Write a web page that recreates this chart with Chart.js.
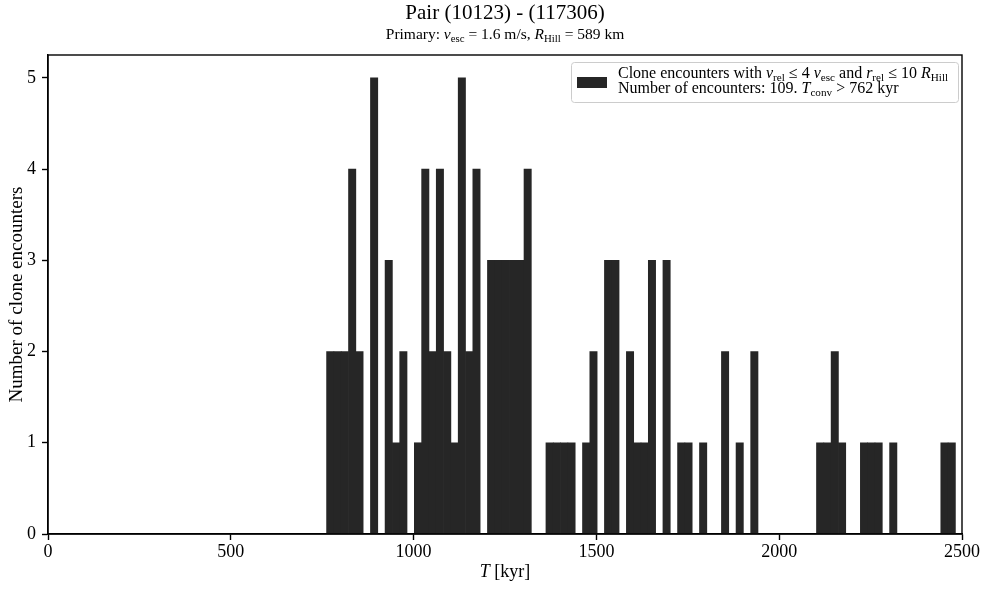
<!DOCTYPE html>
<html>
<head>
<meta charset="utf-8">
<script src="https://cdn.jsdelivr.net/npm/chart.js@4"></script>
<style>
  html, body { margin: 0; padding: 0; background: #fff; }
  #wrap { width: 986px; height: 589px; }
</style>
</head>
<body>
<div id="wrap"><canvas id="hist"></canvas></div>
<script>
// гистограмма тесных сближений клонов
var binStart = 762;   // T_conv, kyr
var binWidth = 20;    // ширина бина, kyr
var counts = [
  2, 2, 2, 4, 2, 0, 5, 0, 3, 1,
  2, 0, 1, 4, 2, 4, 2, 1, 5, 2,
  4, 0, 3, 3, 3, 3, 3, 4, 0, 0,
  1, 1, 1, 1, 0, 1, 2, 0, 3, 3,
  0, 2, 1, 1, 3, 0, 3, 0, 1, 1,
  0, 1, 0, 0, 2, 0, 1, 0, 2, 0,
  0, 0, 0, 0, 0, 0, 0, 1, 1, 2,
  1, 0, 0, 1, 1, 1, 0, 1, 0, 0,
  0, 0, 0, 0, 1, 1
];
var xTicks = [0, 500, 1000, 1500, 2000, 2500];
var yTicks = [0, 1, 2, 3, 4, 5];

var barColor = '#262626';
var serif = '"Liberation Serif", "DejaVu Serif", serif';

// центры бинов -> точки для столбцов
var points = counts.map(function (c, i) {
  return { x: binStart + binWidth * (i + 0.5), y: c };
});

// текст с курсивом и нижними индексами
function fontFor(kind, size) {
  var s = kind.charAt(0) === 's' ? size * 0.7 : size;
  var it = kind.indexOf('i') >= 0 ? 'italic ' : '';
  return it + s + 'px ' + serif;
}
function richWidth(ctx, parts, size) {
  var w = 0;
  parts.forEach(function (p) {
    ctx.font = fontFor(p[1], size);
    w += ctx.measureText(p[0]).width;
  });
  return w;
}
function drawRich(ctx, parts, x, y, size, align) {
  var w = richWidth(ctx, parts, size);
  var cx = align === 'center' ? x - w / 2 : x;
  ctx.textBaseline = 'alphabetic';
  ctx.textAlign = 'left';
  parts.forEach(function (p) {
    ctx.font = fontFor(p[1], size);
    var dy = p[1].charAt(0) === 's' ? size * 0.2 : 0;
    ctx.fillText(p[0], cx, y + dy);
    cx += ctx.measureText(p[0]).width;
  });
}

var decor = {
  id: 'decor',
  afterDraw: function (chart) {
    var ctx = chart.ctx;
    var a = chart.chartArea;
    var midX = (a.left + a.right) / 2;
    ctx.save();
    // рамка осей
    ctx.strokeStyle = '#000';
    ctx.lineWidth = 1.4;
    ctx.strokeRect(a.left, a.top, a.right - a.left, a.bottom - a.top);

    ctx.fillStyle = '#000';
    // заголовки
    drawRich(ctx, [['Pair (10123) - (117306)', 'r']], midX, 18.5, 21, 'center');
    drawRich(ctx, [
      ['Primary: ', 'r'], ['v', 'i'], ['esc', 'sr'], [' = 1.6 m/s, ', 'r'],
      ['R', 'i'], ['Hill', 'sr'], [' = 589 km', 'r']
    ], midX, 39, 15.5, 'center');

    // подпись оси x
    drawRich(ctx, [['T', 'i'], [' [kyr]', 'r']], midX, 577, 18, 'center');

    // подпись оси y
    ctx.save();
    ctx.translate(22, (a.top + a.bottom) / 2);
    ctx.rotate(-Math.PI / 2);
    drawRich(ctx, [['Number of clone encounters', 'r']], 0, 0, 19, 'center');
    ctx.restore();

    // легенда
    var lx = 571, ly = 62, lw = 387, lh = 40;
    ctx.beginPath();
    ctx.roundRect(lx + 0.5, ly + 0.5, lw, lh, 3);
    ctx.fillStyle = 'rgba(255,255,255,0.8)';
    ctx.fill();
    ctx.strokeStyle = '#cccccc';
    ctx.lineWidth = 1;
    ctx.stroke();
    ctx.fillStyle = barColor;
    ctx.fillRect(577, 77, 30, 11);
    ctx.fillStyle = '#000';
    drawRich(ctx, [
      ['Clone encounters with ', 'r'], ['v', 'i'], ['rel', 'sr'], [' \u2264 4 ', 'r'],
      ['v', 'i'], ['esc', 'sr'], [' and ', 'r'], ['r', 'i'], ['rel', 'sr'],
      [' \u2264 10 ', 'r'], ['R', 'i'], ['Hill', 'sr']
    ], 618, 78, 16, 'left');
    drawRich(ctx, [
      ['Number of encounters: 109. ', 'r'], ['T', 'i'], ['conv', 'sr'],
      [' > 762 kyr', 'r']
    ], 618, 92.5, 16, 'left');
    ctx.restore();
  }
};

var config = {
  type: 'bar',
  data: {
    datasets: [{
      data: points,
      // пустые бины не рисуем
      backgroundColor: function (c) {
        return c.raw && c.raw.y > 0 ? barColor : 'rgba(0,0,0,0)';
      },
      borderWidth: 0,
      barPercentage: 1,
      categoryPercentage: 1
    }]
  },
  options: {
    responsive: true,
    maintainAspectRatio: false,
    animation: false,
    events: [],
    layout: { padding: { left: 0, right: 24, top: 55, bottom: 0 } },
    plugins: {
      legend: { display: false },
      tooltip: { enabled: false },
      title: { display: false }
    },
    scales: {
      x: {
        type: 'linear',
        min: 0,
        max: 2500,
        offset: false,
        afterFit: function (s) { s.height = 55; },
        afterBuildTicks: function (s) {
          s.ticks = xTicks.map(function (v) { return { value: v }; });
        },
        ticks: {
          autoSkip: false,
          maxRotation: 0,
          padding: 1,
          color: '#000',
          font: { family: serif, size: 18 },
          callback: function (v) { return String(v); }
        },
        grid: {
          offset: false,
          drawOnChartArea: false,
          drawTicks: true,
          tickLength: 6,
          tickWidth: 1.4,
          tickColor: '#000'
        },
        border: { display: true, color: '#000', width: 1.4 }
      },
      y: {
        min: 0,
        max: 5.25,
        afterFit: function (s) { s.width = 48; },
        afterBuildTicks: function (s) {
          s.ticks = yTicks.map(function (v) { return { value: v }; });
        },
        ticks: {
          padding: 6,
          color: '#000',
          font: { family: serif, size: 18 },
          callback: function (v) { return String(v); }
        },
        grid: {
          drawOnChartArea: false,
          drawTicks: true,
          tickLength: 6,
          tickWidth: 1.4,
          tickColor: '#000'
        },
        border: { display: true, color: '#000', width: 1.4 }
      }
    }
  },
  plugins: [decor]
};

var ctx = document.getElementById('hist').getContext('2d');
window.histChart = new Chart(ctx, config);
</script>
</body>
</html>
